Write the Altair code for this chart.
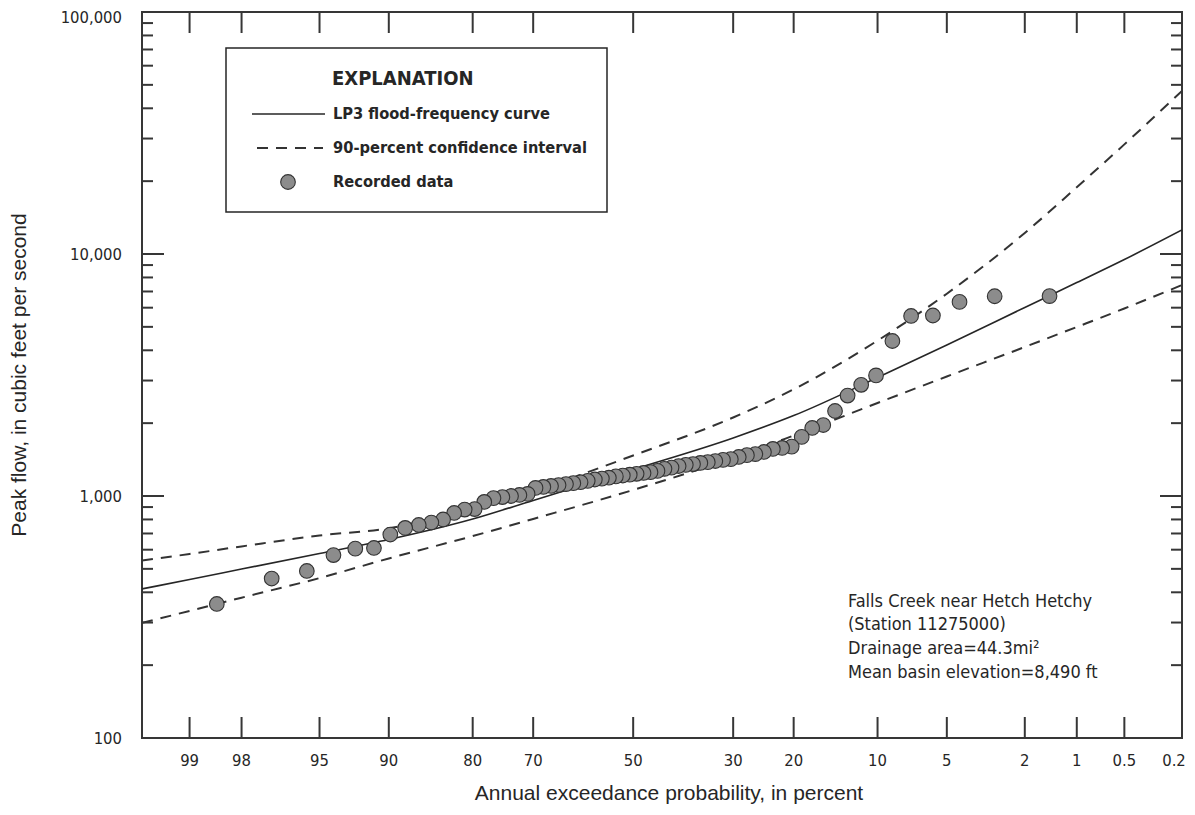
import altair as alt
import pandas as pd
from statistics import NormalDist

# ---------------- data ----------------
point_aep = [1.45, 2.90, 4.35, 5.80, 7.25, 8.70, 10.14, 11.59, 13.04, 14.49,
             15.94, 17.39, 18.84, 20.29, 21.74, 23.19, 24.64, 26.09, 27.54, 28.99,
             30.43, 31.88, 33.33, 34.78, 36.23, 37.68, 39.13, 40.58, 42.03, 43.48,
             44.93, 46.38, 47.83, 49.28, 50.72, 52.17, 53.62, 55.07, 56.52, 57.97,
             59.42, 60.87, 62.32, 63.77, 65.22, 66.67, 68.12, 69.57, 71.01, 72.46,
             73.91, 75.36, 76.81, 78.26, 79.71, 81.16, 82.61, 84.06, 85.51, 86.96,
             88.41, 89.86, 91.30, 92.75, 94.20, 95.65, 97.10, 98.55]
point_flow = [6700, 6690, 6340, 5570, 5545, 4370, 3150, 2880, 2600, 2245,
              1965, 1910, 1755, 1600, 1580, 1565, 1520, 1490, 1475, 1450,
              1420, 1410, 1395, 1380, 1370, 1355, 1345, 1330, 1310, 1295,
              1270, 1255, 1245, 1235, 1225, 1215, 1205, 1190, 1180, 1170,
              1155, 1140, 1130, 1120, 1110, 1100, 1090, 1080, 1020, 1010,
              1000, 990, 980, 945, 883, 879, 851, 800, 777, 759,
              738, 693, 610, 606, 570, 490, 456, 358]

curve_aep = [99.5, 99, 98, 95, 90, 80, 70, 50, 30, 20, 10, 5, 2, 1, 0.5, 0.2]
lp3_flow = [413, 452, 499, 579, 661, 803, 959, 1287, 1737, 2149, 3086, 4207, 6012, 7621, 9486, 12571]
upper_flow = [541, 576, 619, 687, 736, 889, 1050, 1470, 2111, 2760, 4387, 6855, 12215, 18880, 28380, 47160]
lower_flow = [299, 335, 380, 458, 552, 683, 804, 1059, 1436, 1778, 2423, 3118, 4128, 4993, 5955, 7445]

x_tick_labels = [99, 98, 95, 90, 80, 70, 50, 30, 20, 10, 5, 2, 1, 0.5, 0.2]
y_major = [100, 1000, 10000, 100000]
y_minor = [200, 300, 400, 500, 600, 700, 800, 900,
           2000, 3000, 4000, 5000, 6000, 7000, 8000, 9000,
           20000, 30000, 40000, 50000, 60000, 70000, 80000, 90000]

x_title = "Annual exceedance probability, in percent"
y_title = "Peak flow, in cubic feet per second"
legend_title = "EXPLANATION"
legend_labels = ["LP3 flood-frequency curve", "90-percent confidence interval", "Recorded data"]
note_lines = ["Falls Creek near Hetch Hetchy", "(Station 11275000)",
              "Drainage area=44.3mi\u00b2", "Mean basin elevation=8,490 ft"]

# ---------------- build tables ----------------
nd = NormalDist()


def zq(p):
    return nd.inv_cdf(1 - p / 100.0)


pts = pd.DataFrame({"aep": point_aep, "flow": point_flow})
pts["z"] = [zq(p) for p in point_aep]

n = len(curve_aep)
curves = pd.DataFrame({
    "aep": curve_aep * 3,
    "flow": lp3_flow + upper_flow + lower_flow,
    "series": ["LP3"] * n + ["Upper"] * n + ["Lower"] * n,
})
curves["z"] = [zq(p) for p in curves["aep"]]

xt = pd.DataFrame({"z": [zq(p) for p in x_tick_labels],
                   "label": [f"{p:g}" for p in x_tick_labels],
                   "last": [i == len(x_tick_labels) - 1 for i in range(len(x_tick_labels))]})
ymaj = pd.DataFrame({"flow": y_major})
ymin = pd.DataFrame({"flow": y_minor})
one = pd.DataFrame({"k": [0]})

# ---------------- styling ----------------
W, H = 1040, 726
INK = "#262626"
FRAME = "#363636"
COND = "DejaVu Sans Condensed, Liberation Sans Narrow, sans-serif"
REG = "Liberation Sans, Arial, sans-serif"

xscale = alt.Scale(domain=[zq(99.5), zq(0.2)], nice=False, zero=False)
yscale = alt.Scale(type="log", domain=[100, 100000], nice=False)

X = alt.X("z:Q", scale=xscale, axis=None)
Y = alt.Y("flow:Q", scale=yscale, axis=None)

solid = alt.Chart(curves).transform_filter(alt.datum.series == "LP3").mark_line(
    color=INK, strokeWidth=1.6, interpolate="monotone", clip=True
).encode(x=X, y=Y)

dashed = alt.Chart(curves).transform_filter(alt.datum.series != "LP3").mark_line(
    color="#333333", strokeWidth=2, strokeDash=[11, 8], interpolate="monotone", clip=True
).encode(x=X, y=Y, detail="series:N")

points = alt.Chart(pts).mark_circle(
    size=215, fill="#8c8c8c", fillOpacity=1, opacity=1, stroke="#333333", strokeWidth=1.1
).encode(x=X, y=Y)

# inward ticks on all four sides
tick_style = dict(color=FRAME, strokeWidth=2)
xt_bottom = alt.Chart(xt).mark_rule(**tick_style).encode(x=X, y=alt.value(H), y2=alt.value(H - 21))
xt_top = alt.Chart(xt).mark_rule(**tick_style).encode(x=X, y=alt.value(0), y2=alt.value(21))
yM_left = alt.Chart(ymaj).mark_rule(**tick_style).encode(y=Y, x=alt.value(0), x2=alt.value(22))
yM_right = alt.Chart(ymaj).mark_rule(**tick_style).encode(y=Y, x=alt.value(W), x2=alt.value(W - 22))
ym_left = alt.Chart(ymin).mark_rule(**tick_style).encode(y=Y, x=alt.value(0), x2=alt.value(11))
ym_right = alt.Chart(ymin).mark_rule(**tick_style).encode(y=Y, x=alt.value(W), x2=alt.value(W - 11))

# tick labels placed through the scales
lab_style = dict(font=COND, fontSize=16.5, color=INK, baseline="middle")
x_labels = alt.Chart(xt).transform_filter(~alt.datum.last).mark_text(
    align="center", **lab_style
).encode(x=X, y=alt.value(H + 23), text="label:N")
x_label_end = alt.Chart(xt).transform_filter(alt.datum.last).mark_text(
    align="center", dx=-8, **lab_style
).encode(x=X, y=alt.value(H + 23), text="label:N")

y_label_base = alt.Chart(ymaj).transform_calculate(label="format(datum.flow, ',')")
y_labels_low = y_label_base.transform_filter(alt.datum.flow < 100000).mark_text(
    align="right", dy=1, **lab_style
).encode(y=Y, x=alt.value(-20), text="label:N")
y_labels_top = y_label_base.transform_filter(alt.datum.flow >= 100000).mark_text(
    align="right", dy=5.5, **lab_style
).encode(y=Y, x=alt.value(-20), text="label:N")

x_title_mark = alt.Chart(one).mark_text(
    font=REG, fontSize=21, color=INK, align="center", baseline="alphabetic"
).encode(x=alt.value(527), y=alt.value(H + 62), text=alt.value(x_title))
y_title_mark = alt.Chart(one).mark_text(
    font=REG, fontSize=21, color=INK, align="center", baseline="middle", angle=270
).encode(x=alt.value(-122), y=alt.value(363), text=alt.value(y_title))

# ---------------- explanation box ----------------
box = alt.Chart(one).mark_rect(fill="white", stroke=INK, strokeWidth=1.5).encode(
    x=alt.value(84), x2=alt.value(465), y=alt.value(36), y2=alt.value(200)
)
leg_title = alt.Chart(one).mark_text(
    align="left", baseline="middle", font=COND, fontSize=20, fontWeight="bold", color=INK
).encode(x=alt.value(190), y=alt.value(67), text=alt.value(legend_title))
leg_texts = [
    alt.Chart(one).mark_text(
        align="left", baseline="middle", font=COND, fontSize=16.3, fontWeight="bold", color=INK
    ).encode(x=alt.value(191), y=alt.value(yy), text=alt.value(t))
    for t, yy in zip(legend_labels, [102, 136, 170])
]
leg_solid = alt.Chart(one).mark_rule(color=INK, strokeWidth=1.6).encode(
    x=alt.value(110), x2=alt.value(183), y=alt.value(102)
)
leg_dash = alt.Chart(one).mark_rule(color="#333333", strokeWidth=2, strokeDash=[11, 8]).encode(
    x=alt.value(115), x2=alt.value(181), y=alt.value(136)
)
leg_dot = alt.Chart(one).mark_circle(
    size=215, fill="#8c8c8c", fillOpacity=1, opacity=1, stroke="#333333", strokeWidth=1.1
).encode(x=alt.value(146), y=alt.value(170))

notes = [
    alt.Chart(one).mark_text(
        align="left", baseline="middle", font=COND, fontSize=18, color=INK
    ).encode(x=alt.value(706), y=alt.value(yy), text=alt.value(t))
    for t, yy in zip(note_lines, [590, 613, 637, 661])
]

chart = alt.layer(
    solid, dashed, points,
    xt_bottom, xt_top, yM_left, yM_right, ym_left, ym_right,
    x_labels, x_label_end, y_labels_low, y_labels_top, x_title_mark, y_title_mark,
    box, leg_title, *leg_texts, leg_solid, leg_dash, leg_dot,
    *notes,
).properties(
    width=W, height=H,
    autosize=alt.AutoSizeParams(type="none"),
    padding={"left": 134, "top": 4, "right": 5, "bottom": 69},
    background="white",
).configure_view(stroke=FRAME, strokeWidth=2)

chart.save("out.html", embed_options={"renderer": "svg", "actions": False})
